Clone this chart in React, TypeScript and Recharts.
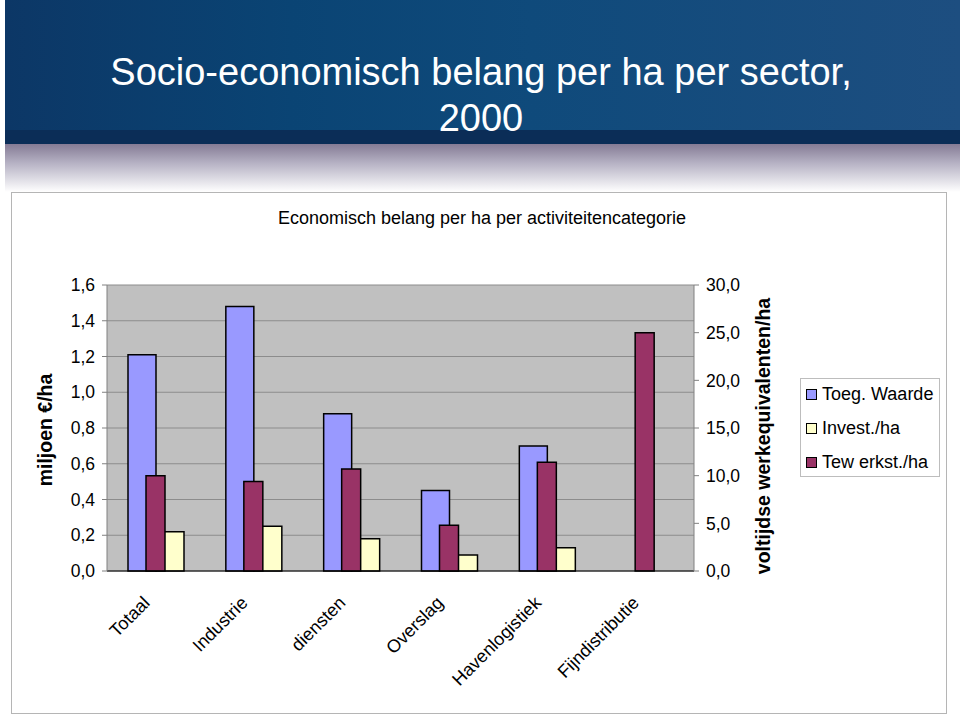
import { Bar, BarChart, CartesianGrid, XAxis, YAxis } from 'recharts';

const categories = ['Totaal', 'Industrie', 'diensten', 'Overslag', 'Havenlogistiek', 'Fijndistributie'];
const toegWaarde = [1.21, 1.48, 0.88, 0.45, 0.7, 0];
const investHa = [0.22, 0.25, 0.18, 0.09, 0.13, 0];
const tewerkstHa = [10.0, 9.4, 10.7, 4.8, 11.4, 25.0];

const leftTicks = [0, 0.2, 0.4, 0.6, 0.8, 1.0, 1.2, 1.4, 1.6];
const rightTicks = [0, 5, 10, 15, 20, 25, 30];
const boundaryTicks = [0, 1, 2, 3, 4, 5, 6];

const seriesNames = ['Toeg. Waarde', 'Invest./ha', 'Tew erkst./ha'];
const seriesColors = ['#9999ff', '#ffffcc', '#993366'];

const data = categories.map((name, i) => ({
  name,
  toeg: toegWaarde[i],
  invest: investHa[i],
  tewerkst: tewerkstHa[i],
}));

const FONT = '"Liberation Sans", Arial, sans-serif';

const fmt = (v: number) => v.toFixed(1).replace('.', ',');

function CategoryTick(props: any) {
  const { x, y, payload } = props;
  const ax = x - 5;
  const ay = y + 25;
  return (
    <text
      x={ax}
      y={ay}
      transform={`rotate(-45, ${ax}, ${ay})`}
      textAnchor="end"
      fontSize={18}
      fontFamily={FONT}
      fill="#000"
    >
      {payload.value}
    </text>
  );
}

export default function App() {
  return (
    <div style={{ position: 'absolute', left: 0, top: 0, width: 960, height: 716, background: '#fff', fontFamily: FONT, overflow: 'hidden' }}>
      {/* header band */}
      <div
        style={{
          position: 'absolute',
          left: 5,
          top: 0,
          width: 955,
          height: 130,
          background: 'linear-gradient(90deg, #0c3766 0%, #0a4474 30%, #0f4a7b 55%, #1d4e80 100%)',
        }}
      />
      <div style={{ position: 'absolute', left: 5, top: 130, width: 955, height: 14, background: '#0b2d57' }} />
      <div
        style={{
          position: 'absolute',
          left: 5,
          top: 144,
          width: 955,
          height: 48,
          background: 'linear-gradient(180deg, #857b95 0%, #b6b2c4 40%, #ffffff 100%)',
        }}
      />
      <div
        style={{
          position: 'absolute',
          left: 0,
          top: 49,
          width: 962,
          textAlign: 'center',
          color: '#fff',
          fontSize: 38,
          lineHeight: '46px',
        }}
      >
        Socio-economisch belang per ha per sector,
        <br />
        2000
      </div>

      {/* chart panel */}
      <div
        style={{
          position: 'absolute',
          left: 11,
          top: 192,
          width: 934,
          height: 520,
          border: '1px solid #b5b5b5',
          background: '#fff',
        }}
      />
      <div style={{ position: 'absolute', left: 0, top: 207, width: 964, textAlign: 'center', fontSize: 18, lineHeight: '22px', color: '#000' }}>
        Economisch belang per ha per activiteitencategorie
      </div>

      <div style={{ position: 'absolute' as const, left: 0, top: 0 }}>
        <BarChart
          width={960}
          height={716}
          data={data}
          margin={{ top: 285, right: 206, bottom: 115, left: 0 }}
          barGap={0}
        >
          <CartesianGrid
            xAxisId="main"
            yAxisId="left"
            vertical={false}
            fill="#c0c0c0"
            fillOpacity={1}
            stroke="#8c8c8c"
          />
          <XAxis
            xAxisId="bounds"
            type="number"
            domain={[0, 6]}
            ticks={boundaryTicks}
            height={0}
            tick={false}
            tickSize={5}
            tickLine={{ stroke: '#000' }}
            axisLine={false}
          />
          <XAxis
            xAxisId="main"
            dataKey="name"
            height={30}
            tickLine={false}
            axisLine={{ stroke: '#000' }}
            interval={0}
            tick={<CategoryTick />}
          />
          <XAxis xAxisId="over" dataKey="name" hide />
          <YAxis
            yAxisId="left"
            domain={[0, 1.6]}
            ticks={leftTicks}
            width={107}
            tickSize={5}
            tickMargin={7}
            tickFormatter={fmt}
            axisLine={{ stroke: '#808080' }}
            tickLine={{ stroke: '#808080' }}
            tick={{ fill: '#000', fontSize: 17.5, fontFamily: FONT }}
            interval={0}
          />
          <YAxis
            yAxisId="right"
            orientation="right"
            domain={[0, 30]}
            ticks={rightTicks}
            width={60}
            tickSize={5}
            tickMargin={7}
            tickFormatter={fmt}
            axisLine={{ stroke: '#808080' }}
            tickLine={{ stroke: '#808080' }}
            tick={{ fill: '#000', fontSize: 17.5, fontFamily: FONT }}
            interval={0}
          />
          <Bar
            xAxisId="main"
            yAxisId="left"
            dataKey="toeg"
            name={seriesNames[0]}
            fill={seriesColors[0]}
            stroke="#000"
            strokeWidth={1.5}
            barSize={28}
            isAnimationActive={false}
          />
          <Bar
            xAxisId="main"
            yAxisId="left"
            dataKey="invest"
            name={seriesNames[1]}
            fill={seriesColors[1]}
            stroke="#000"
            strokeWidth={1.5}
            barSize={28}
            isAnimationActive={false}
          />
          <Bar
            xAxisId="over"
            yAxisId="right"
            dataKey="tewerkst"
            name={seriesNames[2]}
            fill={seriesColors[2]}
            stroke="#000"
            strokeWidth={1.5}
            barSize={19}
            isAnimationActive={false}
          />
        </BarChart>
      </div>

      {/* axis titles */}
      <div
        style={{
          position: 'absolute',
          left: 45 - 100,
          top: 430 - 11,
          width: 200,
          height: 22,
          lineHeight: '22px',
          textAlign: 'center',
          fontWeight: 'bold',
          fontSize: 19.5,
          transform: 'rotate(-90deg)',
        }}
      >
        miljoen €/ha
      </div>
      <div
        style={{
          position: 'absolute',
          left: 763 - 150,
          top: 436 - 11,
          width: 300,
          height: 22,
          lineHeight: '22px',
          textAlign: 'center',
          fontWeight: 'bold',
          fontSize: 19.5,
          transform: 'rotate(-90deg)',
        }}
      >
        voltijdse werkequivalenten/ha
      </div>

      {/* legend */}
      <div
        style={{
          position: 'absolute',
          left: 800,
          top: 378,
          width: 140,
          height: 99,
          border: '1px solid #bdbdbd',
          background: '#fff',
          boxSizing: 'border-box',
        }}
      >
        {seriesNames.map((n, i) => (
          <div
            key={n}
            style={{
              position: 'absolute',
              left: 5,
              top: 15 + 34 * i - 12,
              height: 24,
              display: 'flex',
              alignItems: 'center',
              fontSize: 18,
              whiteSpace: 'nowrap',
            }}
          >
            <span
              style={{
                display: 'inline-block',
                width: 9,
                height: 9,
                border: '1.5px solid #000',
                background: seriesColors[i],
                marginRight: 5,
              }}
            />
            {n}
          </div>
        ))}
      </div>
    </div>
  );
}
